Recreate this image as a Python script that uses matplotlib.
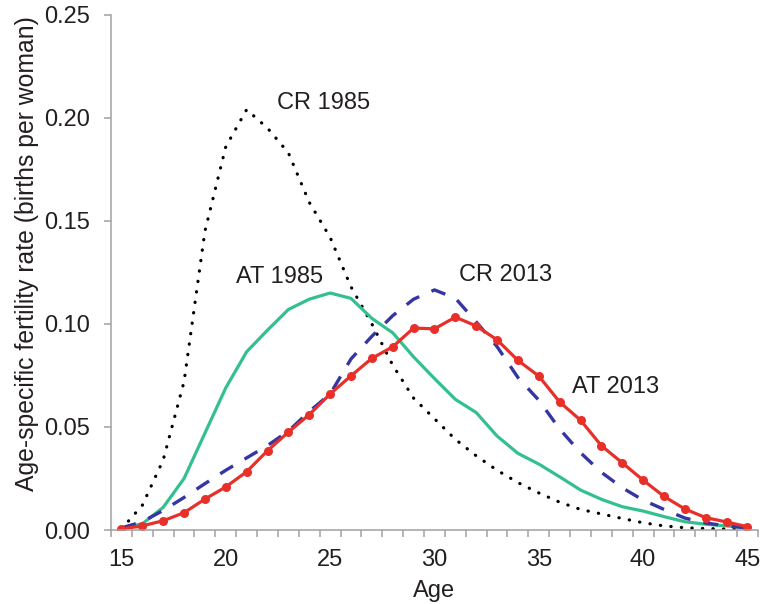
import numpy as np
import matplotlib
matplotlib.use("Agg")
import matplotlib.pyplot as plt
from matplotlib.ticker import MultipleLocator, FixedLocator

plt.rcParams['font.family'] = ['Liberation Sans', 'DejaVu Sans']

ages = list(range(15, 46))

cr_1985 = [0.0005, 0.012, 0.034, 0.072, 0.145, 0.186, 0.204, 0.195, 0.183, 0.159,
           0.142, 0.118, 0.100, 0.080, 0.064, 0.054, 0.044, 0.036, 0.029, 0.023,
           0.018, 0.0135, 0.010, 0.0078, 0.0056, 0.0035, 0.002, 0.0011, 0.0007,
           0.0005, 0.0003]
at_1985 = [0.001, 0.003, 0.011, 0.025, 0.047, 0.069, 0.0865, 0.097, 0.107, 0.112,
           0.115, 0.1124, 0.1027, 0.0957, 0.084, 0.0735, 0.0634, 0.057, 0.0456,
           0.0372, 0.032, 0.0258, 0.0194, 0.0149, 0.0113, 0.0092, 0.0065, 0.004,
           0.0028, 0.002, 0.001]
cr_2013 = [0.001, 0.004, 0.0095, 0.0158, 0.0225, 0.029, 0.035, 0.041, 0.048,
           0.0575, 0.066, 0.083, 0.094, 0.104, 0.112, 0.1165, 0.1125, 0.101,
           0.089, 0.074, 0.063, 0.049, 0.0375, 0.028, 0.0205, 0.0145, 0.010,
           0.0058, 0.0034, 0.002, 0.001]
at_2013 = [0.0005, 0.002, 0.0045, 0.0084, 0.015, 0.0209, 0.0283, 0.0385, 0.0475,
           0.056, 0.066, 0.0748, 0.0833, 0.0889, 0.098, 0.0976, 0.1033, 0.099,
           0.0923, 0.0823, 0.0747, 0.0621, 0.0533, 0.0409, 0.0326, 0.0242,
           0.0163, 0.0102, 0.006, 0.0039, 0.0016]

labels = ["CR 1985", "AT 1985", "CR 2013", "AT 2013"]
label_pos = [(22.45, 0.207), (20.5, 0.1227), (31.2, 0.1237), (36.6, 0.0694)]

green = "#33C08E"
blue = "#3535A3"
red = "#E8302A"
grey = "#A0A0A0"
txt = "#231F20"
fs = 17

fig = plt.figure(figsize=(7.61, 6.04), dpi=100)
ax = fig.add_axes([0.1459, 0.1225, 0.850, 0.853])

ax.plot(ages, cr_1985, color="black", lw=2.3, linestyle=(0, (0.1, 3.2)),
        dash_capstyle="round")
ax.plot(ages, at_1985, color=green, lw=2.3)
ax.plot(ages, cr_2013, color=blue, lw=2.4, linestyle=(0, (4.5, 4.0)))
ax.plot(ages, at_2013, color=red, lw=2.3, marker="o", markersize=6.5,
        markeredgewidth=0)

for lab, (lx, ly) in zip(labels, label_pos):
    ax.text(lx, ly, lab, fontsize=fs, color=txt, ha="left", va="center")

ax.set_xlim(14.5, 45.5)
ax.set_ylim(0, 0.25)

ax.xaxis.set_major_locator(FixedLocator([15, 20, 25, 30, 35, 40, 45]))
ax.xaxis.set_minor_locator(FixedLocator(np.arange(14.5, 45.6, 1.0)))
ax.yaxis.set_major_locator(MultipleLocator(0.05))
ax.yaxis.set_major_formatter(matplotlib.ticker.FormatStrFormatter("%.2f"))

ax.tick_params(axis="x", which="major", length=0, pad=14, labelsize=fs,
               labelcolor=txt)
ax.tick_params(axis="x", which="minor", length=5, width=1.1, color=grey,
               direction="out")
ax.tick_params(axis="y", which="major", length=5, width=1.1, color=grey,
               direction="out", labelsize=fs, labelcolor=txt, pad=10)

for side in ["top", "right"]:
    ax.spines[side].set_visible(False)
for side in ["left", "bottom"]:
    ax.spines[side].set_color(grey)
    ax.spines[side].set_linewidth(1.1)

ax.set_xlabel("Age", fontsize=fs, color=txt, labelpad=6)
ax.set_ylabel("Age-specific fertility rate (births per woman)", fontsize=17.8,
              color=txt)
ax.yaxis.set_label_coords(-0.112, 0.537)

fig.savefig("out.png", dpi=100)
